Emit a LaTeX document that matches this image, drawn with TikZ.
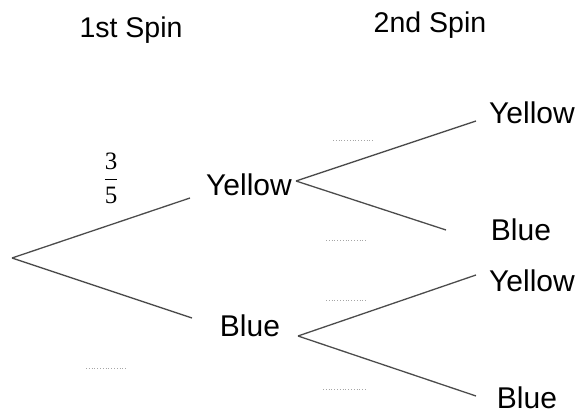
\documentclass[tikz,border=0pt]{standalone}
\usepackage{amsmath}
\usepackage{graphicx}
\usepackage{fontspec}
\setmainfont{Liberation Sans}
\newfontfamily\fracfont{Liberation Serif}
\begin{document}
\begin{tikzpicture}[x=1pt,y=-1pt,
		lbl/.style={font=\fontsize{30}{34}\selectfont, inner sep=0pt},
		head/.style={font=\fontsize{28.5}{32}\selectfont, inner sep=0pt},
		branch/.style={line width=1.3pt, black!70},
		blank/.style={dotted, line width=0.8pt, gray!70}]
	\useasboundingbox (0,0) rectangle (579,414);

	% headings
	\node[head] (first) at (131,30) {1st Spin};
	\node[head] (second) at (430,25) {2nd Spin};

	% first spin
	\coordinate (root) at (12,258);
	\coordinate (yin) at (190,198);
	\coordinate (bin) at (192,318);
	\node[lbl] (yel) at (249,185) {Yellow};
	\node[lbl] (blu) at (250,326) {Blue};
	\draw[branch] (root) -- (yin);
	\draw[branch] (root) -- (bin);
	\node[inner sep=0pt] (frac) at (111,178)
		{\scalebox{2.5}{$\dfrac{\mbox{\fracfont 3}}{\mbox{\fracfont 5}}$}};

	% second spin
	\coordinate (yout) at (296,181);
	\coordinate (bout) at (298,336);
	\coordinate (yy) at (476,121);
	\coordinate (yb) at (446,230);
	\coordinate (by) at (476,275);
	\coordinate (bb) at (476,396);
	\draw[branch] (yout) -- (yy);
	\draw[branch] (yout) -- (yb);
	\draw[branch] (bout) -- (by);
	\draw[branch] (bout) -- (bb);
	\node[lbl] (yyl) at (532,113) {Yellow};
	\node[lbl] (ybl) at (521,230) {Blue};
	\node[lbl] (byl) at (532,281) {Yellow};
	\node[lbl] (bbl) at (527,398) {Blue};

	% blanks for the missing probabilities
	\draw[blank] (333,140) -- (373,140);
	\draw[blank] (326,240) -- (367,240);
	\draw[blank] (326,300) -- (366,300);
	\draw[blank] (323,389) -- (366,389);
	\draw[blank] (86,368) -- (127,368);
\end{tikzpicture}
\end{document}
